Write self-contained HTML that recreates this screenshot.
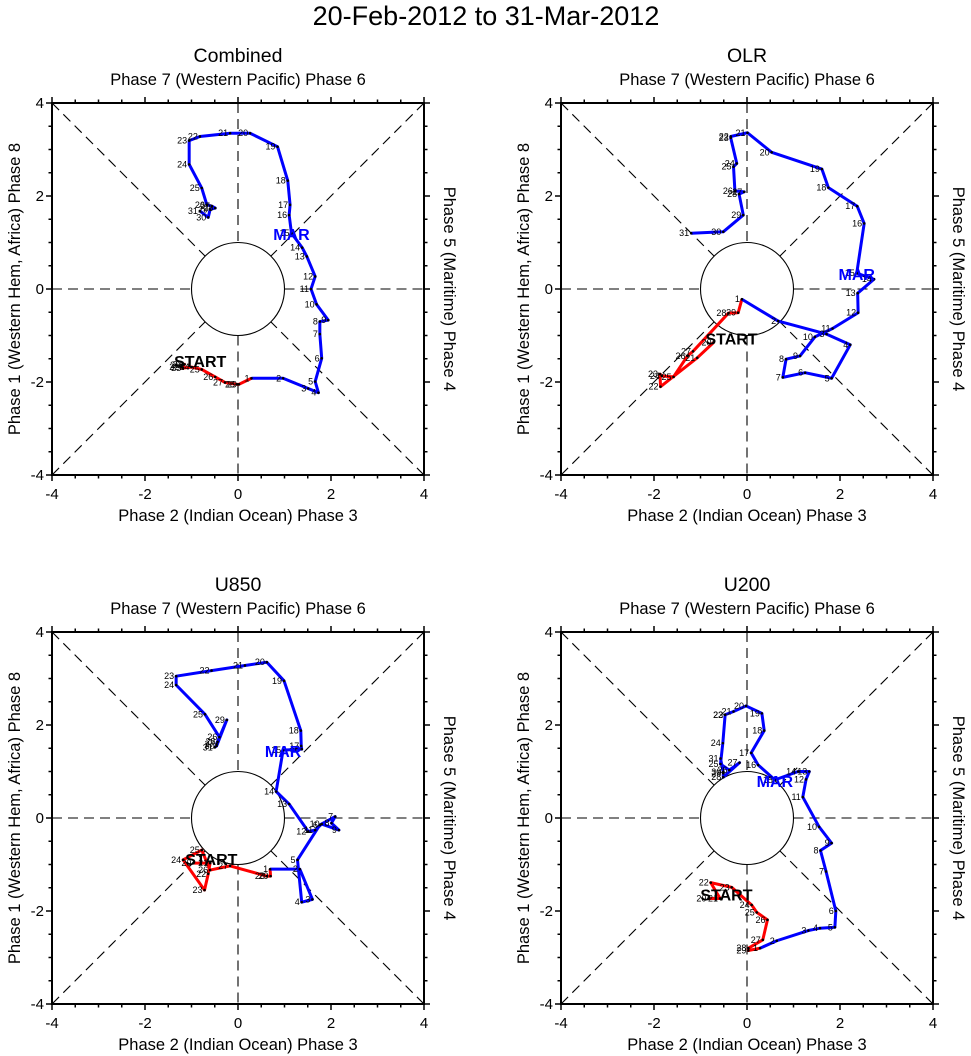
<!DOCTYPE html>
<html><head><meta charset="utf-8"><style>
html,body{margin:0;padding:0;background:#fff;}
svg{display:block;font-family:"Liberation Sans",Arial,sans-serif;}
</style></head><body>
<svg id="chart" width="971" height="1056" viewBox="0 0 971 1056" xmlns="http://www.w3.org/2000/svg">
<rect width="971" height="1056" fill="#fff"/>
<text x="486" y="25" text-anchor="middle" font-size="27">20-Feb-2012 to 31-Mar-2012</text>
</svg>
<script>
const panelNames = ["Combined","OLR","U850","U200"];
const febDays = [20,21,22,23,24,25,26,27,28,29];
const marDays = [1,2,3,4,5,6,7,8,9,10,11,12,13,14,15,16,17,18,19,20,21,22,23,24,25,26,27,28,29,30,31];
const tickValues = [-4,-2,0,2,4];

const combFebX = [-1.2,-1.15,-1.22,-1.18,-1.0,-0.78,-0.49,-0.28,-0.02,0.02];
const combFebY = [-1.63,-1.62,-1.68,-1.70,-1.68,-1.73,-1.89,-2.01,-2.05,-2.05];
const combMarX = [0.29,0.97,1.51,1.73,1.66,1.80,1.76,1.76,1.94,1.69,1.57,1.66,1.48,1.38,1.15,1.10,1.12,1.07,0.85,0.26,-0.17,-0.82,-1.05,-1.05,-0.78,-0.67,-0.56,-0.49,-0.6,-0.64,-0.82];
const combMarY = [-1.92,-1.92,-2.14,-2.23,-1.99,-1.49,-0.97,-0.70,-0.67,-0.33,0.0,0.27,0.70,0.89,1.20,1.59,1.81,2.33,3.06,3.35,3.35,3.28,3.19,2.68,2.17,1.81,1.78,1.74,1.71,1.54,1.68];

const olrFebX = [-0.72,-1.07,-1.86,-1.87,-1.83,-1.58,-1.28,-1.16,-0.40,-0.19];
const olrFebY = [-1.15,-1.48,-2.10,-1.83,-1.87,-1.89,-1.44,-1.34,-0.52,-0.51];
const olrMarX = [-0.11,0.67,1.71,2.22,1.82,1.25,0.77,0.84,1.14,1.46,1.84,2.39,2.38,2.73,2.36,2.52,2.37,1.75,1.61,0.53,0.01,-0.35,-0.35,-0.22,-0.29,-0.26,-0.06,-0.17,-0.08,-0.51,-1.2];
const olrMarY = [-0.22,-0.69,-0.97,-1.20,-1.92,-1.80,-1.90,-1.51,-1.44,-1.03,-0.85,-0.51,-0.09,0.21,0.34,1.41,1.78,2.18,2.58,2.94,3.36,3.28,3.25,2.70,2.63,2.11,2.09,2.04,1.59,1.23,1.20];

const u850FebX = [-0.96,-0.6,-0.64,-0.72,-1.18,-0.78,-0.60,-0.17,0.62,0.70];
const u850FebY = [-0.97,-0.97,-1.20,-1.55,-0.90,-0.69,-1.12,-1.03,-1.25,-1.25];
const u850MarX = [0.69,1.33,1.60,1.37,1.28,1.76,2.09,2.01,2.17,1.80,1.66,1.51,1.10,0.82,0.97,1.37,1.36,1.35,0.99,0.62,0.15,-0.57,-1.33,-1.33,-0.71,-0.40,-0.46,-0.44,-0.24,-0.46,-0.50];
const u850MarY = [-1.10,-1.10,-1.75,-1.81,-0.90,-0.15,0.03,-0.11,-0.26,-0.13,-0.26,-0.29,0.30,0.57,1.46,1.48,1.55,1.88,2.95,3.35,3.28,3.17,3.05,2.86,2.23,1.74,1.59,1.64,2.11,1.55,1.52];

const u200FebX = [-0.83,-0.58,-0.78,-0.33,0.10,0.21,0.44,0.34,0.03,0.03];
const u200FebY = [-1.73,-1.73,-1.39,-1.49,-1.87,-2.03,-2.19,-2.62,-2.80,-2.85];
const u200MarX = [0.28,0.64,1.32,1.57,1.89,1.91,1.70,1.58,1.82,1.55,1.20,1.27,1.34,1.10,0.60,0.24,0.09,0.37,0.32,-0.02,-0.29,-0.47,-0.47,-0.52,-0.57,-0.38,-0.16,-0.51,-0.51,-0.51,-0.57];
const u200MarY = [-2.80,-2.64,-2.42,-2.37,-2.35,-2.00,-1.15,-0.70,-0.54,-0.19,0.45,0.83,1.00,1.00,0.82,1.14,1.40,1.88,2.25,2.41,2.29,2.22,2.22,1.61,1.16,1.03,1.19,0.88,0.96,0.99,1.28];

const svg = document.getElementById('chart');
const NS = 'http://www.w3.org/2000/svg';
function mk(tag, attrs, parent){
  const e = document.createElementNS(NS, tag);
  for (const k in attrs) e.setAttribute(k, attrs[k]);
  (parent||svg).appendChild(e);
  return e;
}
const panelData = [
  [combFebX,combFebY,combMarX,combMarY],
  [olrFebX,olrFebY,olrMarX,olrMarY],
  [u850FebX,u850FebY,u850MarX,u850MarY],
  [u200FebX,u200FebY,u200MarX,u200MarY]
];
const origins = [[52,103],[561,103],[52,632],[561,632]];
const SIZE = 372;

panelNames.forEach((name, pi) => {
  const [x0, y0] = origins[pi];
  const g = mk('g', {});
  
  
  const sx = v => x0 + (v + 4) / 8 * SIZE;
  const sy = v => y0 + (4 - v) / 8 * SIZE;
  const cx = sx(0), cy = sy(0), r = SIZE / 8;
  const mid = x0 + SIZE / 2;

  let t = mk('text', {x: mid, y: y0 - 41, 'text-anchor': 'middle', 'font-size': 19.5}, g);
  t.textContent = name;
  
  
  t = mk('text', {x: mid, y: y0 - 18, 'text-anchor': 'middle', 'font-size': 16.5}, g);
  t.textContent = 'Phase 7 (Western Pacific) Phase 6';
  
  
  t = mk('text', {x: mid, y: y0 + SIZE + 46, 'text-anchor': 'middle', 'font-size': 16.5}, g);
  t.textContent = 'Phase 2 (Indian Ocean) Phase 3';
  
  
  const ly = y0 + SIZE / 2;
  t = mk('text', {x: 0, y: 0, 'text-anchor': 'middle', 'font-size': 16.5, transform: `translate(${x0-32},${ly}) rotate(-90)`}, g);
  t.textContent = 'Phase 1 (Western Hem, Africa) Phase 8';
  
  
  t = mk('text', {x: 0, y: 0, 'text-anchor': 'middle', 'font-size': 16.5, transform: `translate(${x0+SIZE+20},${ly}) rotate(90)`}, g);
  t.textContent = 'Phase 5 (Maritime) Phase 4';
  
  

  // dashed guide lines
  const dash = {stroke: '#000', 'stroke-width': 1.1, 'stroke-dasharray': '10,6', fill: 'none'};
  const d = r / Math.SQRT2;
  const guides = [
    [sx(-4), cy, cx - r, cy], [cx + r, cy, sx(4), cy],
    [cx, sy(4), cx, cy - r], [cx, cy + r, cx, sy(-4)],
    [sx(-4), sy(4), cx - d, cy - d], [sx(4), sy(4), cx + d, cy - d],
    [sx(-4), sy(-4), cx - d, cy + d], [sx(4), sy(-4), cx + d, cy + d]
  ];
  guides.forEach(q => {
    const l = mk('line', Object.assign({x1: q[0], y1: q[1], x2: q[2], y2: q[3]}, dash), g);
    
    
  });
  const c = mk('circle', {cx: cx, cy: cy, r: r, fill: '#fff', stroke: '#000', 'stroke-width': 1.1}, g);
  
  

  // frame
  const fr = mk('rect', {x: x0, y: y0, width: SIZE, height: SIZE, fill: 'none', stroke: '#000', 'stroke-width': 2}, g);
  
  
  for (let v = -4; v <= 4.001; v += 0.5) {
    const major = Math.abs(v - Math.round(v / 2) * 2) < 0.01;
    const L = major ? 6 : 3.5;
    mk('line', {x1: sx(v), y1: y0 + SIZE, x2: sx(v), y2: y0 + SIZE + L, stroke: '#000', 'stroke-width': 1.5}, g);
    mk('line', {x1: sx(v), y1: y0, x2: sx(v), y2: y0 - L, stroke: '#000', 'stroke-width': 1.5}, g);
    mk('line', {x1: x0, y1: sy(v), x2: x0 - L, y2: sy(v), stroke: '#000', 'stroke-width': 1.5}, g);
    mk('line', {x1: x0 + SIZE, y1: sy(v), x2: x0 + SIZE + L, y2: sy(v), stroke: '#000', 'stroke-width': 1.5}, g);
  }
  tickValues.forEach(v => {
    let tl = mk('text', {x: sx(v), y: y0 + SIZE + 24, 'text-anchor': 'middle', 'font-size': 15}, g);
    tl.textContent = v;
    
    
    tl = mk('text', {x: x0 - 8, y: sy(v) + 5, 'text-anchor': 'end', 'font-size': 15}, g);
    tl.textContent = v;
    
    
  });

  const [fx, fy, mx, my] = panelData[pi];
  const fpts = fx.map((v, i) => [sx(v), sy(fy[i])]);
  const mpts = mx.map((v, i) => [sx(v), sy(my[i])]);
  const redPts = fpts.concat([mpts[0]]);
  const red = mk('polyline', {points: redPts.map(p => p.join(',')).join(' '), fill: 'none', stroke: '#f00', 'stroke-width': 3, 'stroke-linejoin': 'round'}, g);
  
  
  const blue = mk('polyline', {points: mpts.map(p => p.join(',')).join(' '), fill: 'none', stroke: '#00f', 'stroke-width': 3, 'stroke-linejoin': 'round'}, g);
  
  

  const addLabel = (p, day) => {
    const dot = mk('circle', {cx: p[0], cy: p[1], r: 1.3, fill: '#000'}, g);
    
    
    const lb = mk('text', {x: p[0] - 2, y: p[1] + 3, 'text-anchor': 'end', 'font-size': 9}, g);
    lb.textContent = day;
    
    
  };
  fpts.forEach((p, i) => addLabel(p, febDays[i]));
  mpts.forEach((p, i) => addLabel(p, marDays[i]));

  const st = mk('text', {x: fpts[0][0] + 18, y: fpts[0][1] + 2, 'text-anchor': 'middle', 'font-size': 16, 'font-weight': 'bold', fill: '#000'}, g);
  st.textContent = 'START';
  
  
  const mp = mpts[14];
  const ml = mk('text', {x: mp[0], y: mp[1] + 7, 'text-anchor': 'middle', 'font-size': 16, 'font-weight': 'bold', fill: '#00f'}, g);
  ml.textContent = 'MAR';
  
  
});
</script>
</body></html>
